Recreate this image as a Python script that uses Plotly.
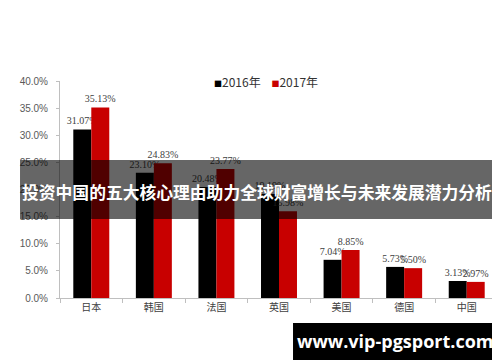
import plotly.graph_objects as go

categories = ["日本", "韩国", "法国", "英国", "美国", "德国", "中国"]
series_names = ["2016年", "2017年"]
values_2016 = [31.07, 23.10, 20.48, 19.19, 7.04, 5.73, 3.13]
values_2017 = [35.13, 24.83, 23.77, 15.98, 8.85, 5.50, 2.97]
colors = ["#000000", "#C80000"]
y_ticks = [0, 5, 10, 15, 20, 25, 30, 35, 40]
y_tick_labels = ["0.0%", "5.0%", "10.0%", "15.0%", "20.0%", "25.0%", "30.0%", "35.0%", "40.0%"]
banner_text = "投资中国的五大核心理由助力全球财富增长与未来发展潜力分析"
watermark_text = "www.vip-pgsport.com"

fig = go.Figure()
for name, vals, col in zip(series_names, [values_2016, values_2017], colors):
    fig.add_trace(go.Bar(
        x=categories, y=vals, name=name, marker=dict(color=col, line=dict(width=0)),
        text=[f"{v:.2f}%" for v in vals], textposition="outside",
        constraintext="none", cliponaxis=False,
        textfont=dict(family="Liberation Serif", size=10, color="#404040"),
        hoverinfo="skip",
    ))

fig.update_layout(
    width=500, height=362,
    margin=dict(l=52, r=10, t=73, b=72),
    paper_bgcolor="white", plot_bgcolor="white",
    barmode="group", bargap=0.425, bargroupgap=0,
    showlegend=False,
    xaxis=dict(
        showline=True, linecolor="#BFBFBF", linewidth=1,
        ticks="outside", tickson="boundaries", ticklen=4, tickcolor="#BFBFBF",
        tickfont=dict(family="Noto Sans CJK SC", size=10, color="#404040"),
        showgrid=False, zeroline=False,
    ),
    yaxis=dict(
        range=[0, 40], tickvals=y_ticks, ticktext=y_tick_labels,
        showline=True, linecolor="#BFBFBF", linewidth=1,
        ticks="outside", ticklen=3, tickcolor="#BFBFBF", ticklabelstandoff=6,
        tickfont=dict(family="Liberation Sans", size=10, color="#595959"),
        showgrid=False, zeroline=False,
    ),
)

legend_html = (
    f"<span style='color:{colors[0]};font-size:8px'>■</span>{series_names[0]}"
    f"&nbsp;&nbsp;&nbsp;&nbsp;"
    f"<span style='color:{colors[1]};font-size:8px'>■</span>{series_names[1]}"
)
fig.add_annotation(
    text=legend_html, xref="paper", yref="paper", x=0.47, y=1.0,
    xanchor="center", yanchor="middle", showarrow=False,
    font=dict(family="Noto Sans CJK SC", size=12, color="#333333"),
)

# overlay banner
fig.add_shape(type="rect", xref="paper", yref="paper",
              x0=-0.0913, x1=0.9954, y0=0.364, y1=0.636,
              fillcolor="rgba(0,0,0,0.6)", line=dict(width=0), layer="above")
fig.add_annotation(
    text=banner_text, xref="paper", yref="paper", x=0.4498, y=0.49,
    xanchor="center", yanchor="middle", showarrow=False,
    font=dict(family="Noto Sans CJK SC", size=16.8, color="white", weight="bold"),
)

# watermark
fig.add_shape(type="rect", xref="paper", yref="paper",
              x0=0.532, x1=1.002, y0=-0.286, y1=-0.115,
              fillcolor="black", line=dict(width=0), layer="above")
fig.add_annotation(
    text=watermark_text, xref="paper", yref="paper", x=0.767, y=-0.2,
    xanchor="center", yanchor="middle", showarrow=False,
    font=dict(family="Open Sans", size=18, color="white", weight="bold"),
)

fig.write_html("out.html")
